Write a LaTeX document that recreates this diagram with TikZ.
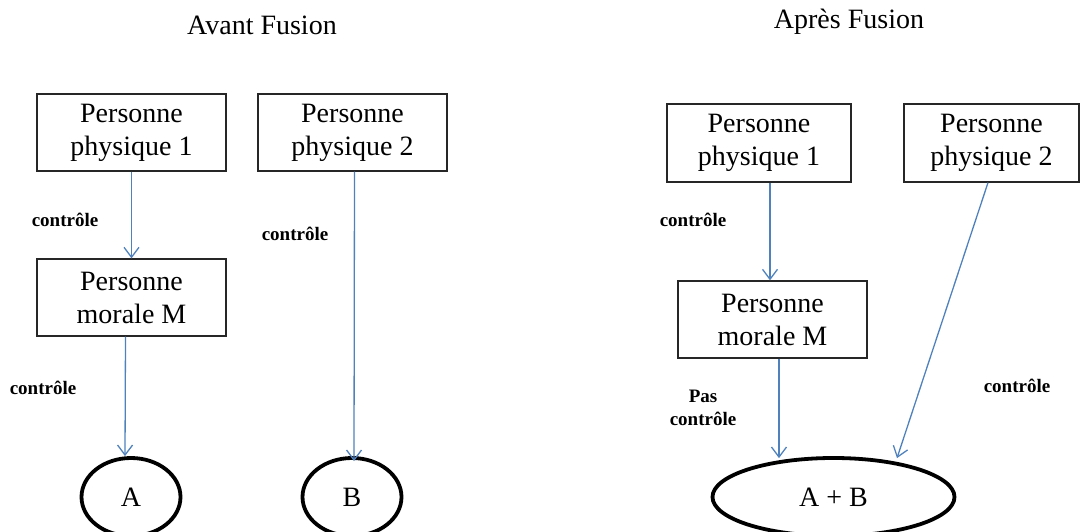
\documentclass[tikz,border=0pt]{standalone}
\usepackage{fontspec}
\setmainfont{Liberation Serif}
\usepackage{tikz}
\usetikzlibrary{arrows.meta,shapes}
\definecolor{ctrlblue}{RGB}{79,129,189}
\tikzset{
  personbox/.style={draw=black!85, line width=1.2pt, minimum width=189pt, minimum height=77pt,
    align=center, inner sep=2pt, font=\fontsize{28}{33}\selectfont},
  firmnode/.style={draw, ellipse, line width=3.8pt, minimum width=99pt, minimum height=78pt,
    inner sep=0pt, font=\fontsize{28}{33}\selectfont},
  ctrl/.style={draw=ctrlblue, line width=1.3pt, -{Straight Barb[length=10pt,width=15pt]}},
  ctrllabel/.style={font=\fontsize{19}{23}\selectfont\bfseries, align=center, inner sep=0pt},
  heading/.style={font=\fontsize{28}{32}\selectfont, inner sep=0pt}
}

\begin{document}
\begin{tikzpicture}[x=1pt, y=-1pt]
  \useasboundingbox (0,0) rectangle (1080,532);
  % avant fusion
  \node[heading] (titleL) at (262,25) {Avant Fusion};
  \node[personbox] (pp1) at (131.5,132.5) {Personne\\physique 1};
  \node[personbox] (pp2) at (352.5,132.5) {Personne\\physique 2};
  \node[personbox] (pm) at (131.5,297.5) {Personne\\morale M};
  \node[firmnode] (a) at (131,497) {A};
  \node[firmnode] (b) at (352,497) {B};
  \draw[ctrl] (pp1.south) -- (pm.north);
  \draw[ctrl] ([xshift=-6pt]pm.south) -- ([xshift=-6pt]a.north);
  \draw[ctrl] ([xshift=2pt]pp2.south) -- ([xshift=2pt,yshift=-5pt]b.north);
  \node[ctrllabel] (c1) at (65,220) {contrôle};
  \node[ctrllabel] (c2) at (295,234) {contrôle};
  \node[ctrllabel] (c3) at (43,388) {contrôle};
  % apres fusion
  \node[heading] (titleR) at (849,22) {Après Fusion};
  \node[personbox, minimum width=184pt, minimum height=78pt] (rpp1) at (759,143) {Personne\\physique 1};
  \node[personbox, minimum width=175pt, minimum height=78pt] (rpp2) at (991.5,143) {Personne\\physique 2};
  \node[personbox] (rpm) at (772.5,319.5) {Personne\\morale M};
  \node[firmnode, minimum width=242pt] (ab) at (833.5,497) {A + B};
  \draw[ctrl] ([xshift=11pt]rpp1.south) -- ([xshift=-2.5pt]rpm.north);
  \draw[ctrl] ([xshift=6.5pt]rpm.south) -- ([xshift=-54.5pt,yshift=-2pt]ab.north);
  \draw[ctrl] ([xshift=-3.5pt]rpp2.south) -- ([xshift=63.5pt,yshift=-2pt]ab.north);
  \node[ctrllabel] (c4) at (693,220) {contrôle};
  \node[ctrllabel] (c5) at (703,408) {Pas\\contrôle};
  \node[ctrllabel] (c6) at (1017,386) {contrôle};
\end{tikzpicture}
\end{document}
